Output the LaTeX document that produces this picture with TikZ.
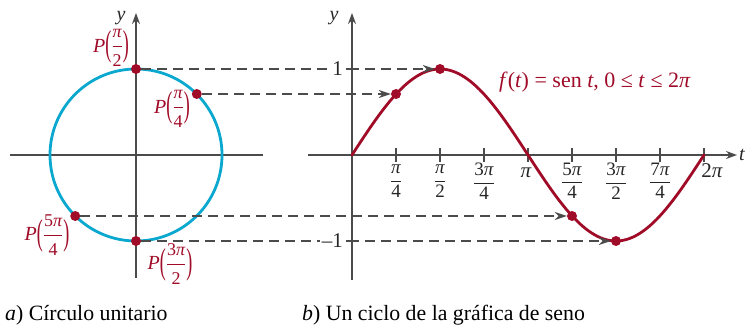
\documentclass[tikz,border=0pt]{standalone}
\usepackage{amsmath}
\usepackage{graphicx}
\usepackage{fontspec}
\setmainfont{Liberation Serif}
\usetikzlibrary{arrows.meta}
\definecolor{cyanc}{RGB}{10,168,206}
\definecolor{redc}{RGB}{160,12,40}
\definecolor{axc}{RGB}{75,75,75}
\newcommand\sfr[2]{$\dfrac{\hbox{#1}}{\hbox{#2}}$}
\newcommand\bigpar[1]{\vcenter{\hbox{\scalebox{0.9}[1.8]{#1}}}}
\newcommand\plab[2]{\textit{P}$\bigpar{(}{\dfrac{\hbox{\fontsize{18}{18}\selectfont #1}}{\hbox{\fontsize{18}{18}\selectfont #2}}}\bigpar{)}$}
\begin{document}
\begin{tikzpicture}[x=1pt,y=-1pt,
  axis/.style={axc,line width=1.3pt},
  axarrow/.style={axis,-{Stealth[length=11pt,width=8pt]}},
  dot/.style={circle,fill=redc,inner sep=0pt,minimum size=10pt},
  proj/.style={axc,line width=1.5pt,dash pattern=on 10pt off 6pt,-{Stealth[length=12pt,width=8pt]}},
  redlbl/.style={text=redc,font=\fontsize{20}{22}\selectfont,inner sep=1pt},
  ticklbl/.style={text=black!85,font=\fontsize{19}{20}\selectfont,inner sep=0pt},
  biglbl/.style={text=black!85,font=\fontsize{21}{22}\selectfont,inner sep=1pt},
  caption/.style={font=\fontsize{21.8}{24}\selectfont,anchor=base west,inner sep=0pt},
  ]
\useasboundingbox (0,0) rectangle (745,328);
\def\R{86}
% ---------- unit circle ----------
\draw[axis] (10,155) -- (263,155);
\draw[axarrow] (136,278) -- (136,13);
\node[biglbl,font=\fontsize{20}{22}\selectfont\itshape] (ylab1) at (121,18) {y};
\draw[cyanc,line width=2.8pt] (136,155) circle[radius=\R];
% ---------- graph ----------
\draw[axarrow] (308,155) -- (737,155);
\draw[axarrow] (352,280) -- (352,13);
\node[biglbl,font=\fontsize{20}{22}\selectfont\itshape] (ylab2) at (334,18) {y};
\node[biglbl,font=\fontsize{20}{22}\selectfont\itshape,anchor=west] (tlab) at (738,155) {t};
\foreach \k in {1,...,8}{
  \draw[axis] (352+44*\k,148) -- (352+44*\k,162);
}
\draw[axis] (346,69) -- (358,69);
\draw[axis] (346,241) -- (358,241);
\node[ticklbl] (t1) at (396,181) {\sfr{\itshape π}{4}};
\node[ticklbl] (t2) at (440,181) {\sfr{\itshape π}{2}};
\node[ticklbl] (t3) at (484,181) {\sfr{3\itshape π}{4}};
\node[biglbl,anchor=base] (t4) at (526,178) {\itshape π};
\node[ticklbl] (t5) at (572,181) {\sfr{5\itshape π}{4}};
\node[ticklbl] (t6) at (616,181) {\sfr{3\itshape π}{2}};
\node[ticklbl] (t7) at (660,181) {\sfr{7\itshape π}{4}};
\node[biglbl,anchor=base] (t8) at (712,178) {2\itshape π};
\draw[redc,line width=2.8pt,line cap=round,domain=0:360,samples=120,smooth]
  plot ({352+0.977778*\x},{155-\R*sin(\x)});
% ---------- points ----------
\node[dot] (c2) at (136,69) {};
\node[dot] (c1) at (196.8,94) {};
\node[dot] (c5) at (75.2,216) {};
\node[dot] (c6) at (136,241) {};
\node[dot] (g2) at (440,69) {};
\node[dot] (g1) at (396,94) {};
\node[dot] (g5) at (572,216) {};
\node[dot] (g6) at (616,241) {};
% ---------- projections ----------
\draw[proj] (c2) -- (g2);
\draw[proj] (c1) -- (g1);
\draw[proj] (c5) -- (g5);
\draw[proj] (c6) -- (g6);
\node[biglbl,fill=white,anchor=east,inner xsep=2pt] (one) at (345,69) {1};
\node[biglbl,fill=white,anchor=east,inner xsep=2pt] (mone) at (345,241) {–1};
% ---------- labels ----------
\node[redlbl] (lp2) at (111,48) {\plab{\itshape π}{2}};
\node[redlbl] (lp1) at (172,109) {\plab{\itshape π}{4}};
\node[redlbl] (lp5) at (47,235) {\plab{5\itshape π}{4}};
\node[redlbl] (lp6) at (170,264) {\plab{3\itshape π}{2}};
\node[redlbl,font=\fontsize{22}{24}\selectfont,anchor=base west] (fl) at (498,88)
  {\textit{f}(\textit{t}) = sen \textit{t}, 0 ≤ \textit{t} ≤ 2\textit{π}};
\node[caption] (capa) at (5,321) {\textit{a}) Círculo unitario};
\node[caption] (capb) at (302,321) {\textit{b}) Un ciclo de la gráfica de seno};
\end{tikzpicture}
\end{document}
